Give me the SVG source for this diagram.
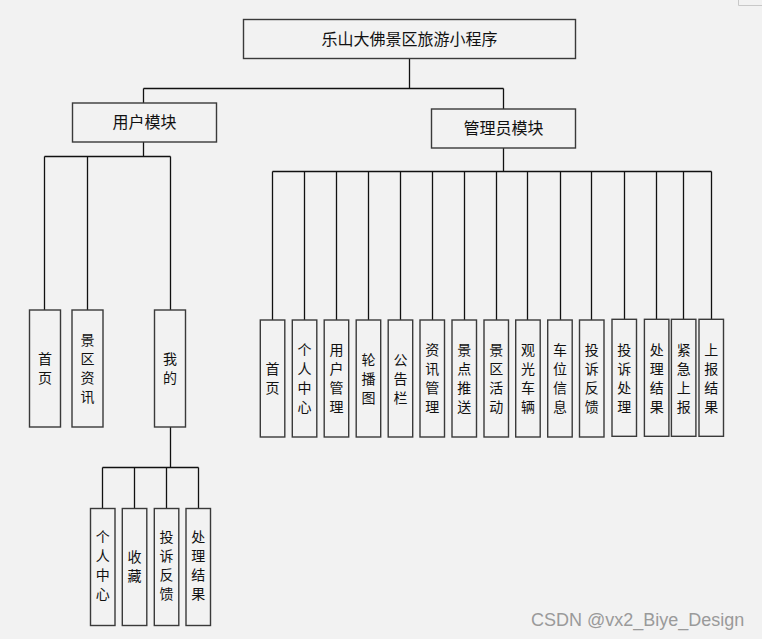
<svg xmlns="http://www.w3.org/2000/svg" width="762" height="639" viewBox="0 0 762 639">
<style>
.bg{fill:#f2f2f2}
.box{fill:#f2f2f2;stroke:#3a3a3a;stroke-width:1.4}
.ln{fill:none;stroke:#111;stroke-width:1.3}
.t{font-family:"Noto Sans CJK SC","Noto Sans",sans-serif;fill:#111;text-anchor:middle}
.big{font-size:16px}
.v{font-size:14px}
.wm{font-family:"Liberation Sans",Arial,sans-serif;font-size:18px;fill:#9a9a9a}
</style>
<rect class="bg" x="0" y="0" width="762" height="639"/>
<path d="M738.5 0V5.5H762" fill="none" stroke="#c8c8c8" stroke-width="1"/>

<g id="connectors">
<path class="ln" d="M409.5 58V88.5M143.5 88.5H503.5M143.5 88.5V103M503.5 88.5V109"/>
<path class="ln" d="M143.5 142V156.5M44.5 156.5H170.5M44.5 156.5V310M87.5 156.5V310M170.5 156.5V310"/>
<path class="ln" d="M170.5 427V467.5M102.5 467.5H198.5M102.5 467.5V508M134.5 467.5V508M166.5 467.5V508M198.5 467.5V508"/>
<path class="ln" d="M503.5 148V171.5M272.5 171.5H711.5M272.5 171.5V320M304.5 171.5V320M336.5 171.5V320M368.5 171.5V320M400.5 171.5V320M432.5 171.5V320M464.5 171.5V320M496.5 171.5V320M527.5 171.5V320M560.5 171.5V320M591.5 171.5V320M624.5 171.5V319M656.5 171.5V319M683.5 171.5V319M711.5 171.5V319"/>
</g>

<g id="root"><rect class="box" x="243.5" y="19.5" width="332" height="39"/><text class="t big" x="409.5" y="45">乐山大佛景区旅游小程序</text></g>
<g id="user"><rect class="box" x="72.5" y="103" width="144" height="39"/><text class="t big" x="144.5" y="128">用户模块</text></g>
<g id="admin"><rect class="box" x="431.5" y="109" width="144" height="39"/><text class="t big" x="503.5" y="134">管理员模块</text></g>

<g id="u-home"><rect class="box" x="29.5" y="310" width="31" height="117"/><text class="t v"><tspan x="45" y="364">首</tspan><tspan x="45" y="383">页</tspan></text></g>
<g id="u-news"><rect class="box" x="72" y="310" width="31" height="117"/><text class="t v"><tspan x="87.5" y="345">景</tspan><tspan x="87.5" y="364">区</tspan><tspan x="87.5" y="383">资</tspan><tspan x="87.5" y="402">讯</tspan></text></g>
<g id="u-mine"><rect class="box" x="154.5" y="310" width="31" height="117"/><text class="t v"><tspan x="170" y="364">我</tspan><tspan x="170" y="383">的</tspan></text></g>

<g id="m-center"><rect class="box" x="90.5" y="508.5" width="24.5" height="117"/><text class="t v"><tspan x="102.7" y="542">个</tspan><tspan x="102.7" y="561">人</tspan><tspan x="102.7" y="580">中</tspan><tspan x="102.7" y="599">心</tspan></text></g>
<g id="m-fav"><rect class="box" x="122.3" y="508.5" width="24.5" height="117"/><text class="t v"><tspan x="134.5" y="561.5">收</tspan><tspan x="134.5" y="580.5">藏</tspan></text></g>
<g id="m-complain"><rect class="box" x="154.3" y="508.5" width="24.5" height="117"/><text class="t v"><tspan x="166.5" y="542">投</tspan><tspan x="166.5" y="561">诉</tspan><tspan x="166.5" y="580">反</tspan><tspan x="166.5" y="599">馈</tspan></text></g>
<g id="m-result"><rect class="box" x="186" y="508.5" width="24.5" height="117"/><text class="t v"><tspan x="198.3" y="542">处</tspan><tspan x="198.3" y="561">理</tspan><tspan x="198.3" y="580">结</tspan><tspan x="198.3" y="599">果</tspan></text></g>

<g id="a1"><rect class="box" x="260.3" y="320" width="24.5" height="117"/><text class="t v"><tspan x="272.5" y="374">首</tspan><tspan x="272.5" y="393">页</tspan></text></g>
<g id="a2"><rect class="box" x="292.3" y="320" width="24.5" height="117"/><text class="t v"><tspan x="304.5" y="355">个</tspan><tspan x="304.5" y="374">人</tspan><tspan x="304.5" y="393">中</tspan><tspan x="304.5" y="412">心</tspan></text></g>
<g id="a3"><rect class="box" x="324.2" y="320" width="24.5" height="117"/><text class="t v"><tspan x="336.5" y="355">用</tspan><tspan x="336.5" y="374">户</tspan><tspan x="336.5" y="393">管</tspan><tspan x="336.5" y="412">理</tspan></text></g>
<g id="a4"><rect class="box" x="356.2" y="320" width="24.5" height="117"/><text class="t v"><tspan x="368.5" y="364.5">轮</tspan><tspan x="368.5" y="383.5">播</tspan><tspan x="368.5" y="402.5">图</tspan></text></g>
<g id="a5"><rect class="box" x="388.2" y="320" width="24.5" height="117"/><text class="t v"><tspan x="400.5" y="364.5">公</tspan><tspan x="400.5" y="383.5">告</tspan><tspan x="400.5" y="402.5">栏</tspan></text></g>
<g id="a6"><rect class="box" x="420" y="320" width="24.5" height="117"/><text class="t v"><tspan x="432.3" y="355">资</tspan><tspan x="432.3" y="374">讯</tspan><tspan x="432.3" y="393">管</tspan><tspan x="432.3" y="412">理</tspan></text></g>
<g id="a7"><rect class="box" x="452" y="320" width="24.5" height="117"/><text class="t v"><tspan x="464.3" y="355">景</tspan><tspan x="464.3" y="374">点</tspan><tspan x="464.3" y="393">推</tspan><tspan x="464.3" y="412">送</tspan></text></g>
<g id="a8"><rect class="box" x="484" y="320" width="24.5" height="117"/><text class="t v"><tspan x="496.3" y="355">景</tspan><tspan x="496.3" y="374">区</tspan><tspan x="496.3" y="393">活</tspan><tspan x="496.3" y="412">动</tspan></text></g>
<g id="a9"><rect class="box" x="515.7" y="320" width="24.5" height="117"/><text class="t v"><tspan x="528" y="355">观</tspan><tspan x="528" y="374">光</tspan><tspan x="528" y="393">车</tspan><tspan x="528" y="412">辆</tspan></text></g>
<g id="a10"><rect class="box" x="547.7" y="320" width="24.5" height="117"/><text class="t v"><tspan x="560" y="355">车</tspan><tspan x="560" y="374">位</tspan><tspan x="560" y="393">信</tspan><tspan x="560" y="412">息</tspan></text></g>
<g id="a11"><rect class="box" x="579.5" y="320" width="24.5" height="117"/><text class="t v"><tspan x="591.7" y="355">投</tspan><tspan x="591.7" y="374">诉</tspan><tspan x="591.7" y="393">反</tspan><tspan x="591.7" y="412">馈</tspan></text></g>
<g id="a12"><rect class="box" x="612" y="319.3" width="24.5" height="117"/><text class="t v"><tspan x="624.3" y="354.5">投</tspan><tspan x="624.3" y="373.5">诉</tspan><tspan x="624.3" y="392.5">处</tspan><tspan x="624.3" y="411.5">理</tspan></text></g>
<g id="a13"><rect class="box" x="644.4" y="319.3" width="24.5" height="117"/><text class="t v"><tspan x="656.7" y="354.5">处</tspan><tspan x="656.7" y="373.5">理</tspan><tspan x="656.7" y="392.5">结</tspan><tspan x="656.7" y="411.5">果</tspan></text></g>
<g id="a14"><rect class="box" x="671.4" y="319.3" width="24.5" height="117"/><text class="t v"><tspan x="683.7" y="354.5">紧</tspan><tspan x="683.7" y="373.5">急</tspan><tspan x="683.7" y="392.5">上</tspan><tspan x="683.7" y="411.5">报</tspan></text></g>
<g id="a15"><rect class="box" x="699" y="319.3" width="24.5" height="117"/><text class="t v"><tspan x="711.3" y="354.5">上</tspan><tspan x="711.3" y="373.5">报</tspan><tspan x="711.3" y="392.5">结</tspan><tspan x="711.3" y="411.5">果</tspan></text></g>

<text class="wm" x="531" y="626">CSDN @vx2_Biye_Design</text>
</svg>
